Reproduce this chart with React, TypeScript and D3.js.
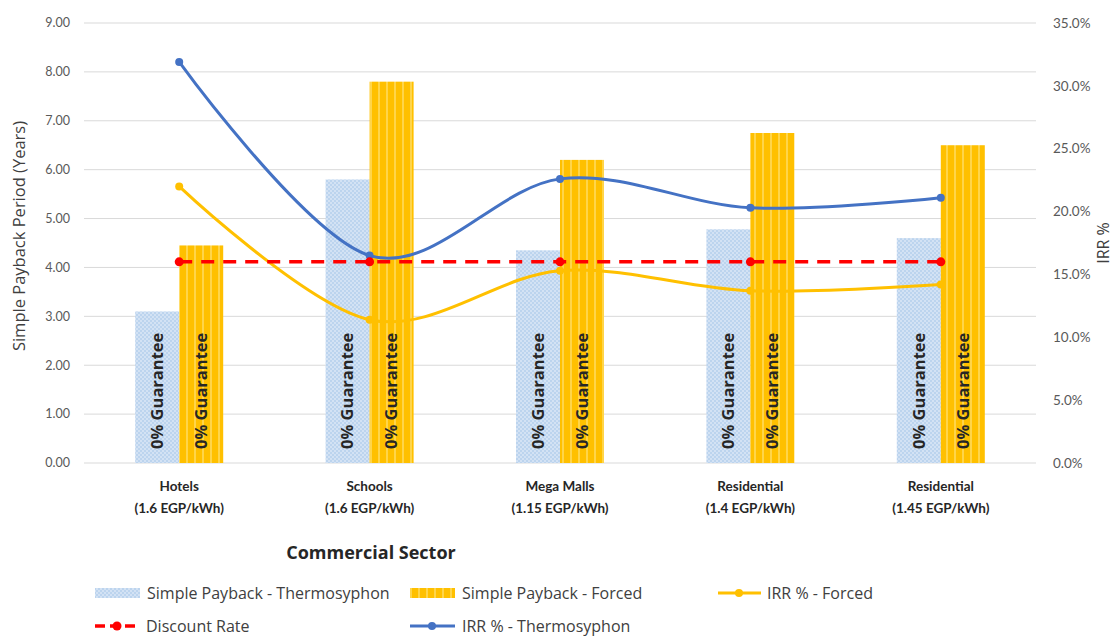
import React from "react";
import * as d3 from "d3";

const categories = ["Hotels", "Schools", "Mega Malls", "Residential", "Residential"];
const subLabels = ["(1.6 EGP/kWh)", "(1.6 EGP/kWh)", "(1.15 EGP/kWh)", "(1.4 EGP/kWh)", "(1.45 EGP/kWh)"];
const paybackThermo = [3.1, 5.8, 4.35, 4.78, 4.6];
const paybackForced = [4.45, 7.8, 6.2, 6.75, 6.5];
const irrThermo = [0.319, 0.165, 0.226, 0.203, 0.211];
const irrForced = [0.22, 0.114, 0.153, 0.137, 0.142];
const discountRate = [0.16, 0.16, 0.16, 0.16, 0.16];
const leftTicks = [0, 1, 2, 3, 4, 5, 6, 7, 8, 9];
const rightTicks = [0, 0.05, 0.1, 0.15, 0.2, 0.25, 0.3, 0.35];
const barLabel = "0% Guarantee";

const W = 1120, H = 638;
const M = { left: 84, right: 1036, top: 23, bottom: 463 };
const LATO = "Lato, sans-serif";
const OPEN = "'Open Sans', sans-serif";

export default function App() {
  const x = d3.scaleBand<number>().domain(d3.range(categories.length)).range([M.left, M.right]).paddingInner(0).paddingOuter(0);
  const yL = d3.scaleLinear().domain([0, 9]).range([M.bottom, M.top]);
  const yR = d3.scaleLinear().domain([0, 0.35]).range([M.bottom, M.top]);
  const barW = 44;
  const cx = (i: number) => (x(i) as number) + x.bandwidth() / 2;
  const line = d3.line<number>().x((_, i) => cx(i)).y((d) => yR(d)).curve(d3.curveCardinal.tension(0));
  const straight = d3.line<number>().x((_, i) => cx(i)).y((d) => yR(d));
  const blue = "#4472c4", gold = "#ffc000", red = "#ff0000";
  const tickColor = "#595959";
  const row1 = 593, row2 = 626;

  return (
    <svg width={W} height={H} style={{ position: "absolute", left: 0, top: 0, background: "#fff" }} fontFamily={LATO}>
      <defs>
        <pattern id="thermo" width="4" height="4" patternUnits="userSpaceOnUse">
          <rect width="4" height="4" fill="#bcd4ee" />
          <rect x="0" y="0" width="2" height="2" fill="#d3e2f4" />
          <rect x="2" y="2" width="2" height="2" fill="#d3e2f4" />
        </pattern>
        <pattern id="forced" width="8" height="8" patternUnits="userSpaceOnUse">
          <rect width="8" height="8" fill="#ffc000" />
          <rect x="2" width="2" height="8" fill="#ffd54a" />
        </pattern>
      </defs>

      {leftTicks.map((t) => (
        <g key={"g" + t}>
          <line x1={M.left} x2={M.right} y1={yL(t)} y2={yL(t)} stroke="#d9d9d9" strokeWidth={1} />
          <text x={70} y={yL(t)} dy="0.35em" textAnchor="end" fontSize={12.5} fill={tickColor}>{t.toFixed(2)}</text>
        </g>
      ))}
      {rightTicks.map((t) => (
        <text key={"r" + t} x={1053} y={yR(t)} dy="0.35em" textAnchor="start" fontSize={13.5} fill={tickColor}>{(t * 100).toFixed(1) + "%"}</text>
      ))}

      {categories.map((c, i) => (
        <g key={"b" + i}>
          <rect x={cx(i) - barW} y={yL(paybackThermo[i])} width={barW} height={yL(0) - yL(paybackThermo[i])} fill="url(#thermo)" />
          <rect x={cx(i)} y={yL(paybackForced[i])} width={barW} height={yL(0) - yL(paybackForced[i])} fill="url(#forced)" />
          <text transform={`translate(${cx(i) - barW / 2},${yL(0) - 14}) rotate(-90)`} dy="0.35em" fontFamily={OPEN} fontSize={16.5} fontWeight="bold" fill="#262626">{barLabel}</text>
          <text transform={`translate(${cx(i) + barW / 2},${yL(0) - 14}) rotate(-90)`} dy="0.35em" fontFamily={OPEN} fontSize={16.5} fontWeight="bold" fill="#262626">{barLabel}</text>
          <text x={cx(i)} y={491} textAnchor="middle" fontSize={13.5} fontWeight="bold" fill="#262626">{c}</text>
          <text x={cx(i)} y={513} textAnchor="middle" fontSize={13.5} fontWeight="bold" fill="#262626">{subLabels[i]}</text>
        </g>
      ))}

      <path d={line(irrForced) || ""} fill="none" stroke={gold} strokeWidth={3} />
      {irrForced.map((v, i) => <circle key={"f" + i} cx={cx(i)} cy={yR(v)} r={4} fill={gold} />)}
      <path d={line(irrThermo) || ""} fill="none" stroke={blue} strokeWidth={3} />
      {irrThermo.map((v, i) => <circle key={"t" + i} cx={cx(i)} cy={yR(v)} r={4} fill={blue} />)}
      <path d={straight(discountRate) || ""} fill="none" stroke={red} strokeWidth={3.5} strokeDasharray="13 9" />
      {discountRate.map((v, i) => <circle key={"d" + i} cx={cx(i)} cy={yR(v)} r={4.5} fill={red} />)}

      <text transform={`translate(25,236) rotate(-90)`} textAnchor="middle" fontFamily={OPEN} fontSize={16.5} fill="#404040">Simple Payback Period (Years)</text>
      <text transform={`translate(1109,243) rotate(-90)`} textAnchor="middle" fontFamily={OPEN} fontSize={16} fill="#404040">IRR %</text>
      <text x={371} y={559} textAnchor="middle" fontFamily={OPEN} fontSize={18} fontWeight="bold" fill="#262626">Commercial Sector</text>

      <g fontSize={16} fill="#404040" fontFamily={OPEN}>
        <rect x={95} y={row1 - 5} width={45} height={10} fill="url(#thermo)" />
        <text x={147} y={row1} dy="0.35em">Simple Payback - Thermosyphon</text>
        <rect x={410} y={row1 - 5} width={45} height={10} fill="url(#forced)" />
        <text x={462} y={row1} dy="0.35em">Simple Payback - Forced</text>
        <line x1={718} x2={761} y1={row1} y2={row1} stroke={gold} strokeWidth={3} />
        <circle cx={739} cy={row1} r={4} fill={gold} />
        <text x={767} y={row1} dy="0.35em">IRR % - Forced</text>
        <line x1={95} x2={139} y1={row2} y2={row2} stroke={red} strokeWidth={3.5} strokeDasharray="10 5" />
        <circle cx={117} cy={row2} r={4.5} fill={red} />
        <text x={146} y={row2} dy="0.35em">Discount Rate</text>
        <line x1={410} x2={455} y1={row2} y2={row2} stroke={blue} strokeWidth={3} />
        <circle cx={432} cy={row2} r={4} fill={blue} />
        <text x={462} y={row2} dy="0.35em">IRR % - Thermosyphon</text>
      </g>
    </svg>
  );
}
